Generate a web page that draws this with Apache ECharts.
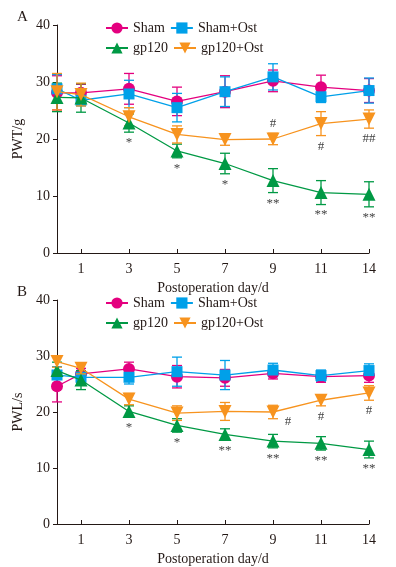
<!DOCTYPE html>
<html>
<head>
<meta charset="utf-8">
<script src="https://cdn.jsdelivr.net/npm/echarts@6/dist/echarts.min.js"></script>
<style>
  html, body { margin: 0; padding: 0; background: #fff; }
  #chart { width: 396px; height: 567px; }
</style>
</head>
<body>
<div id="chart"></div>
<script>
// days after operation (day 0 sits on the y axis)
var days = [0, 1, 3, 5, 7, 9, 11, 14];
var tickDays = [1, 3, 5, 7, 9, 11, 14];
var groups = ["Sham", "Sham+Ost", "gp120", "gp120+Ost"];

// panel A: PWT/g
var shamA = [28.1, 28.1, 28.8, 26.6, 28.3, 30.2, 29.1, 28.5];
var shamAErr = [3.0, 1.5, 2.7, 2.5, 2.8, 1.9, 2.1, 2.1];
var shamOstA = [28.8, 26.8, 27.9, 25.5, 28.3, 30.9, 27.4, 28.5];
var shamOstAErr = [2.5, 1.0, 2.4, 2.5, 2.6, 2.3, 1.0, 2.2];
var gp120A = [27.3, 27.2, 22.8, 17.9, 15.7, 12.7, 10.6, 10.3];
var gp120AErr = [2.5, 2.5, 1.6, 1.2, 1.8, 2.1, 2.1, 2.2];
var gp120OstA = [28.3, 27.8, 23.9, 20.8, 19.9, 20.0, 22.7, 23.5];
var gp120OstAErr = [3.2, 2.0, 1.6, 1.5, 1.0, 1.0, 2.1, 1.6];
var starA = ["", "", "*", "*", "*", "**", "**", "**"];
var hashA = ["", "", "", "", "", "#", "#", "##"];

// panel B: PWL/s
var shamB = [24.6, 26.8, 27.7, 26.3, 26.1, 26.9, 26.3, 26.5];
var shamBErr = [2.8, 1.0, 1.2, 2.0, 1.5, 1.0, 1.0, 1.2];
var shamOstB = [26.6, 26.2, 26.2, 27.2, 26.6, 27.5, 26.5, 27.4];
var shamOstBErr = [1.5, 1.0, 1.2, 2.6, 2.6, 1.2, 1.0, 1.2];
var gp120B = [27.4, 25.7, 20.1, 17.6, 16.0, 14.8, 14.4, 13.3];
var gp120BErr = [1.5, 1.7, 1.0, 1.2, 1.0, 1.2, 1.2, 1.5];
var gp120OstB = [29.0, 27.8, 22.3, 19.8, 20.1, 20.0, 22.1, 23.4];
var gp120OstBErr = [1.0, 1.0, 1.0, 1.3, 1.6, 1.2, 1.0, 1.3];
var starB = ["", "", "*", "*", "**", "**", "**", "**"];
var hashB = ["", "", "", "", "", "#", "#", "#"];

var colors = ["#e4007f", "#00a0e9", "#009944", "#f7931e"];
var symbols = ["circle", "rect", "triangle", "triangle"];
var rotates = [0, 0, 0, 180];
var sizes = [12, 11, 13, 13];
var font = "Liberation Serif";
var ink = "#231815";

// day index -> position on the x axis (day 0 at the axis, then even spacing)
function xPos(i) { return i === 0 ? 0 : 2 * i - 1; }

function lineSeries(k, vals, panel) {
  return {
    name: groups[k],
    type: "line",
    xAxisIndex: panel, yAxisIndex: panel,
    data: vals.map(function (v, i) { return [xPos(i), v]; }),
    symbol: symbols[k], symbolRotate: rotates[k], symbolSize: sizes[k],
    lineStyle: { color: colors[k], width: 1.3 },
    itemStyle: { color: colors[k] },
    z: 3 + k
  };
}

function errSeries(k, vals, errs, panel) {
  return {
    type: "custom",
    xAxisIndex: panel, yAxisIndex: panel,
    silent: true,
    data: vals.map(function (v, i) { return [xPos(i), v - errs[i], v + errs[i]]; }),
    renderItem: function (params, api) {
      var lo = api.coord([api.value(0), api.value(1)]);
      var hi = api.coord([api.value(0), api.value(2)]);
      var w = 5;
      var st = { stroke: colors[k], lineWidth: 1.3 };
      return {
        type: "group",
        children: [
          { type: "line", shape: { x1: lo[0], y1: lo[1], x2: hi[0], y2: hi[1] }, style: st },
          { type: "line", shape: { x1: lo[0] - w, y1: lo[1], x2: lo[0] + w, y2: lo[1] }, style: st },
          { type: "line", shape: { x1: hi[0] - w, y1: hi[1], x2: hi[0] + w, y2: hi[1] }, style: st }
        ]
      };
    },
    z: 2 + k
  };
}

// significance marks, placed relative to the error bar ends
function markSeries(vals, errs, marks, panel, where) {
  return {
    type: "custom",
    xAxisIndex: panel, yAxisIndex: panel,
    silent: true,
    data: vals.map(function (v, i) { return [xPos(i), v - errs[i], v + errs[i], i]; }),
    renderItem: function (params, api) {
      var i = api.value(3);
      var txt = marks[i];
      if (!txt) return null;
      var up = where(i) === "top";
      var p = api.coord([api.value(0), up ? api.value(2) : api.value(1)]);
      var dx = where(i) === "right" ? 15 : 0;
      return {
        type: "text",
        x: p[0] + dx, y: up ? p[1] - 3 : p[1] + (dx ? -4 : 4),
        style: {
          text: txt, fill: "#444", font: "13px " + font,
          align: "center", verticalAlign: up ? "bottom" : "top"
        },
        z: 10
      };
    }
  };
}

function xAxis(panel) {
  return {
    type: "value", gridIndex: panel, min: 0, max: 13,
    name: "Postoperation day/d", nameLocation: "middle", nameGap: 28,
    nameTextStyle: { fontFamily: font, fontSize: 14, color: ink },
    axisLine: { lineStyle: { color: ink, width: 1 } },
    axisTick: { inside: true, length: 4, customValues: [1, 3, 5, 7, 9, 11, 13], lineStyle: { color: ink } },
    axisLabel: {
      customValues: [1, 3, 5, 7, 9, 11, 13],
      fontFamily: font, fontSize: 14, color: ink, margin: 9,
      formatter: function (v) { return String(tickDays[(v - 1) / 2]); }
    },
    splitLine: { show: false }
  };
}

function yAxis(panel, label) {
  return {
    type: "value", gridIndex: panel, min: 0, max: 40, interval: 10,
    name: label, nameLocation: "middle", nameGap: 20,
    nameTextStyle: { fontFamily: font, fontSize: 14, color: ink },
    axisLine: { show: true, lineStyle: { color: ink, width: 1 } },
    axisTick: { show: true, length: 4, lineStyle: { color: ink } },
    axisLabel: { fontFamily: font, fontSize: 14, color: ink, margin: 7 },
    splitLine: { show: false }
  };
}

// one legend per row so the two rows sit 20px apart
function legend(top, names) {
  return {
    data: names, top: top, left: 100,
    itemWidth: 22, itemHeight: 14, itemGap: 5,
    textStyle: { fontFamily: font, fontSize: 14, color: ink, width: 30 }
  };
}

var series = [
  errSeries(0, shamA, shamAErr, 0), errSeries(1, shamOstA, shamOstAErr, 0),
  errSeries(2, gp120A, gp120AErr, 0), errSeries(3, gp120OstA, gp120OstAErr, 0),
  lineSeries(0, shamA, 0), lineSeries(1, shamOstA, 0),
  lineSeries(2, gp120A, 0), lineSeries(3, gp120OstA, 0),
  markSeries(gp120A, gp120AErr, starA, 0, function () { return "bottom"; }),
  markSeries(gp120OstA, gp120OstAErr, hashA, 0, function (i) { return i === 5 ? "top" : "bottom"; }),

  errSeries(0, shamB, shamBErr, 1), errSeries(1, shamOstB, shamOstBErr, 1),
  errSeries(2, gp120B, gp120BErr, 1), errSeries(3, gp120OstB, gp120OstBErr, 1),
  lineSeries(0, shamB, 1), lineSeries(1, shamOstB, 1),
  lineSeries(2, gp120B, 1), lineSeries(3, gp120OstB, 1),
  markSeries(gp120B, gp120BErr, starB, 1, function () { return "bottom"; }),
  markSeries(gp120OstB, gp120OstBErr, hashB, 1, function (i) { return i === 5 ? "right" : "bottom"; })
];

var chart = echarts.init(document.getElementById("chart"));
chart.setOption({
  animation: false,
  backgroundColor: "#fff",
  grid: [
    { left: 57, right: 27, top: 25, height: 228 },
    { left: 57, right: 27, top: 300, height: 227 }
  ],
  xAxis: [xAxis(0), xAxis(1)],
  yAxis: [yAxis(0, "PWT/g"), yAxis(1, "PWL/s")],
  legend: [
    legend(16, groups.slice(0, 2)), legend(36, groups.slice(2)),
    legend(291, groups.slice(0, 2)), legend(311, groups.slice(2))
  ],
  graphic: [
    { type: "text", left: 17, top: 10, style: { text: "A", font: "15px " + font, fill: ink } },
    { type: "text", left: 17, top: 285, style: { text: "B", font: "15px " + font, fill: ink } }
  ],
  series: series
});
</script>
</body>
</html>
